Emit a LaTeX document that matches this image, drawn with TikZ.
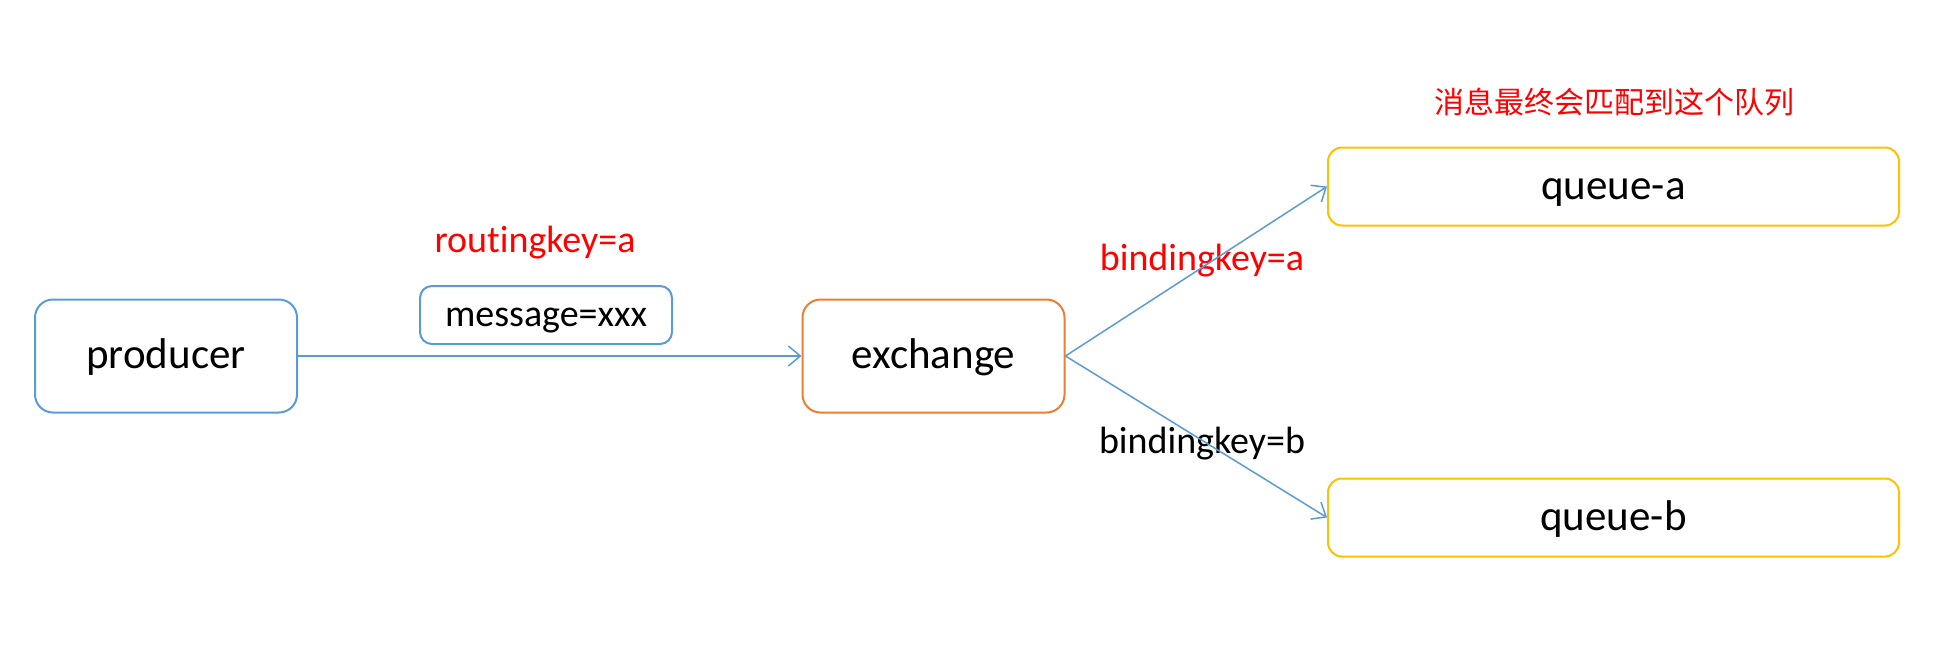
\documentclass[tikz,border=0pt]{standalone}
\usepackage{fontspec}
\setmainfont{Carlito}[Ligatures={NoCommon}]
\newfontfamily\cjk{Noto Sans CJK SC}
\usetikzlibrary{arrows.meta}
\definecolor{cblue}{HTML}{5B9BD5}
\definecolor{corange}{HTML}{ED7D31}
\definecolor{cyellow}{HTML}{FFC000}
\definecolor{cred}{HTML}{FF0000}
\begin{document}
\begin{tikzpicture}[x=0.5pt,y=-0.5pt,
  boxbig/.style={draw, line width=1pt, rounded corners=9pt, inner sep=0pt,
    minimum width=131pt, minimum height=56.5pt, text height=17pt, text depth=4.3pt,
    font=\fontsize{21.5pt}{26pt}\selectfont},
  qbox/.style={draw=cyellow, line width=1pt, rounded corners=7pt, inner sep=0pt,
    minimum width=285.5pt, minimum height=39pt, text height=17pt, text depth=4.3pt,
    font=\fontsize{21.5pt}{26pt}\selectfont},
  lbl/.style={inner sep=0pt, font=\fontsize{19pt}{23pt}\selectfont},
  conn/.style={draw=cblue, line width=0.75pt, -{Straight Barb[length=6pt,width=10pt]}}]
\useasboundingbox (0,0) rectangle (1956,654);
\node[boxbig, draw=cblue] (producer) at (166,356) {producer};
\node[boxbig, draw=corange] (exchange) at (933.5,356) {exchange};
\node[qbox] (qa) at (1613.5,186.5) {queue-a};
\node[qbox] (qb) at (1613.5,517.5) {queue-b};
\node[draw=cblue, line width=1pt, rounded corners=6pt, inner sep=0pt,
  minimum width=126pt, minimum height=29pt, text height=15pt, text depth=3.8pt,
  font=\fontsize{19pt}{23pt}\selectfont] (msg) at (546,315) {message=xxx};
\node[lbl, text=cred] (rk) at (535,243) {routingkey=a};
\node[lbl, text=cred] (bka) at (1202,261) {bindingkey=a};
\node[lbl] (bkb) at (1202,444) {bindingkey=b};
\node[inner sep=0pt, text=cred, font=\cjk\fontsize{15pt}{19pt}\selectfont] (note) at (1614,102) {消息最终会匹配到这个队列};
\draw[conn] (producer.east) -- (exchange.west);
\draw[conn] (exchange.east) -- (qa.west);
\draw[conn] (exchange.east) -- (qb.west);
\end{tikzpicture}
\end{document}
